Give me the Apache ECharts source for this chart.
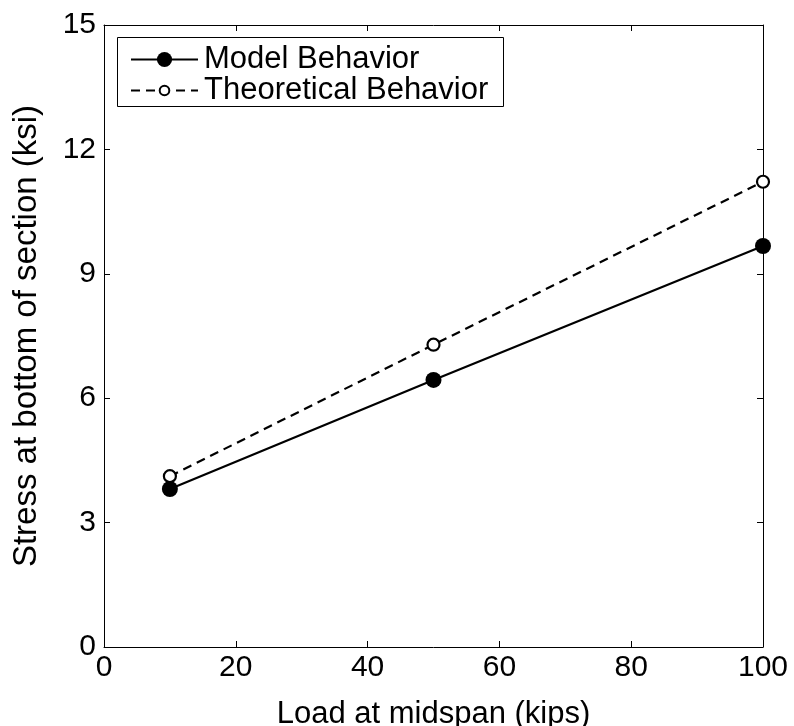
<!DOCTYPE html>
<html><head><meta charset="utf-8">
<script src="https://cdn.jsdelivr.net/npm/echarts@6/dist/echarts.min.js"></script>
<style>html,body{margin:0;padding:0;background:#fff}#c{width:794px;height:726px}</style>
</head><body><div id="c"></div>
<script>
const loads = [10, 50, 100];
const modelStress = [3.81, 6.44, 9.67];
const theoStress = [4.12, 7.29, 11.22];
const seriesNames = ['Model Behavior', 'Theoretical Behavior'];
const xTitle = 'Load at midspan (kips)';
const yTitle = 'Stress at bottom of section (ksi)';

const font = 'Liberation Sans, Arial, Helvetica, sans-serif';
const chart = echarts.init(document.getElementById('c'), null, {renderer: 'canvas'});
const axisCommon = {
  axisLine: {show: true, onZero: false, lineStyle: {color: '#000', width: 1}},
  axisTick: {show: true, inside: true, length: 6, lineStyle: {color: '#000'}},
  splitLine: {show: false}
};
const legendCommon = {
  orient: 'vertical', left: 130, padding: 0, itemWidth: 67,
  textStyle: {fontFamily: font, fontSize: 31, color: '#000', padding: [0, 0, 0, 1]}
};
chart.setOption({
  animation: false,
  backgroundColor: '#fff',
  grid: {left: 104, right: 31, top: 25, bottom: 79, outerBoundsMode: 'none', containLabel: false},
  graphic: [{
    type: 'rect', left: 117, top: 37, z: 100,
    shape: {width: 386, height: 69},
    style: {fill: '#fff', stroke: '#000', lineWidth: 1}
  }],
  legend: [
    Object.assign({top: 44, itemHeight: 19, data: [seriesNames[0]], z: 110}, legendCommon),
    Object.assign({top: 75, itemHeight: 12, data: [seriesNames[1]], z: 110}, legendCommon)
  ],
  xAxis: [
    Object.assign({type: 'value', position: 'bottom', min: 0, max: 100, interval: 20,
      name: xTitle, nameLocation: 'middle', nameGap: 52, nameMoveOverlap: false,
      nameTextStyle: {fontFamily: font, fontSize: 31, color: '#000'},
      axisLabel: {fontFamily: font, fontSize: 30, color: '#000', margin: 6}}, axisCommon),
    Object.assign({type: 'value', position: 'top', min: 0, max: 100, interval: 20,
      axisLabel: {show: false}}, axisCommon)
  ],
  yAxis: [
    Object.assign({type: 'value', position: 'left', min: 0, max: 15, interval: 3,
      name: yTitle, nameLocation: 'middle', nameGap: 61, nameRotate: 90, nameMoveOverlap: false,
      nameTextStyle: {fontFamily: font, fontSize: 33, color: '#000'},
      axisLabel: {fontFamily: font, fontSize: 30, color: '#000', margin: 8}}, axisCommon),
    Object.assign({type: 'value', position: 'right', min: 0, max: 15, interval: 3,
      axisLabel: {show: false}}, axisCommon)
  ],
  series: [
    {
      name: seriesNames[0], type: 'line', xAxisIndex: 0, yAxisIndex: 0,
      data: loads.map((x, i) => [x, modelStress[i]]),
      symbol: 'circle', symbolSize: 16,
      lineStyle: {color: '#000', width: 2.2, type: 'solid'},
      itemStyle: {color: '#000', borderColor: '#000', borderWidth: 0},
      z: 3
    },
    {
      name: seriesNames[1], type: 'line', xAxisIndex: 0, yAxisIndex: 0,
      data: loads.map((x, i) => [x, theoStress[i]]),
      symbol: 'circle', symbolSize: 12,
      lineStyle: {color: '#000', width: 2.2, type: [9, 6]},
      itemStyle: {color: '#fff', borderColor: '#000', borderWidth: 2.2},
      z: 4
    }
  ]
});
</script></body></html>
